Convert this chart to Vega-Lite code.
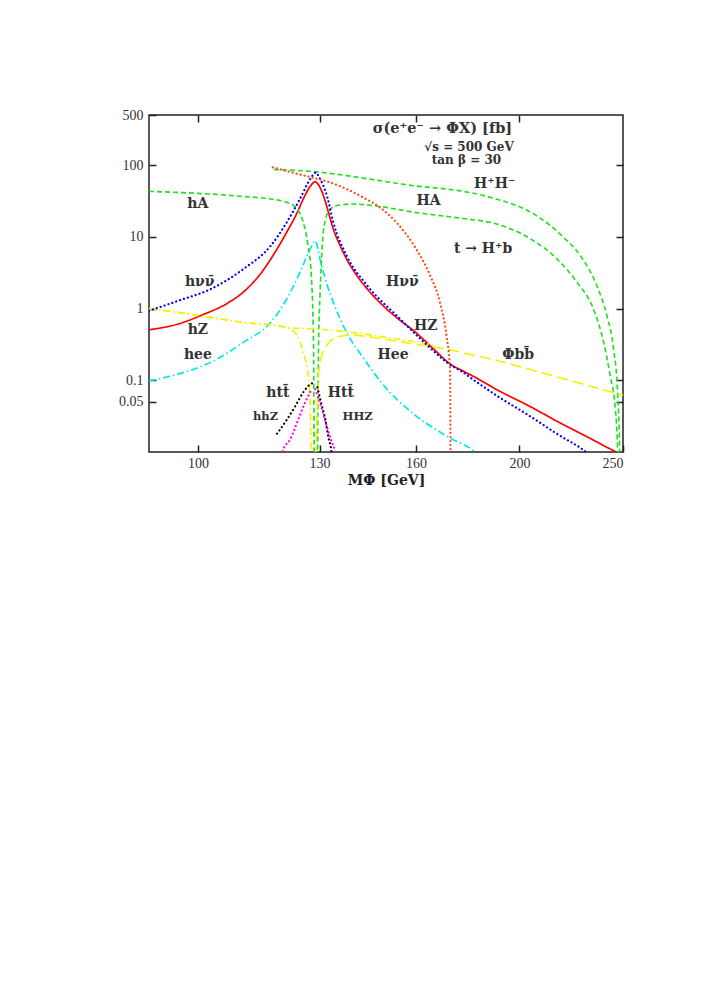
{
  "$schema": "https://vega.github.io/schema/vega-lite/v6.json",
  "width": 474,
  "height": 337,
  "autosize": {"type": "none"},
  "padding": {"left": 149, "top": 115, "right": 83, "bottom": 545},
  "background": "white",
  "config": {
    "view": {"stroke": "#222", "strokeWidth": 1.5},
    "font": "Liberation Serif",
    "axis": {"domain": false, "grid": false, "labelFont": "Liberation Serif", "labelFontSize": 14, "labelColor": "#333", "tickColor": "#222", "tickWidth": 1.5, "tickSize": -7}
  },
  "datasets": {
    "curves": [
      {"s":"Z","m":90,"v":0.506},{"s":"Z","m":95.8,"v":0.608},{"s":"Z","m":100.9,"v":0.812},{"s":"Z","m":106.6,"v":1.19},{"s":"Z","m":110.3,"v":1.70},{"s":"Z","m":114.4,"v":3.03},{"s":"Z","m":118.6,"v":6.76},{"s":"Z","m":121.1,"v":11.6},{"s":"Z","m":123.9,"v":22},{"s":"Z","m":125.5,"v":33.7},{"s":"Z","m":127.4,"v":50.6},{"s":"Z","m":128.8,"v":58.7},{"s":"Z","m":129.3,"v":56.3},{"s":"Z","m":131.1,"v":37.4},{"s":"Z","m":132.5,"v":22},{"s":"Z","m":133.9,"v":12.8},{"s":"Z","m":135.9,"v":7.51},{"s":"Z","m":137.8,"v":4.9},{"s":"Z","m":140.9,"v":2.87},{"s":"Z","m":144.1,"v":1.87},{"s":"Z","m":148.5,"v":1.155},{"s":"Z","m":154.1,"v":0.714},{"s":"Z","m":159.9,"v":0.466},{"s":"Z","m":166,"v":0.278},{"s":"Z","m":172.8,"v":0.163},{"s":"Z","m":176.7,"v":0.137},{"s":"Z","m":181.6,"v":0.111},{"s":"Z","m":191,"v":0.0724},{"s":"Z","m":204.2,"v":0.0438},{"s":"Z","m":217.4,"v":0.0263},{"s":"Z","m":232.1,"v":0.0159},{"s":"Z","m":243.9,"v":0.0108},{"s":"Z","m":250,"v":0.0091},

      {"s":"nunu","m":90,"v":0.93},{"s":"nunu","m":95.8,"v":1.28},{"s":"nunu","m":102.8,"v":1.87},{"s":"nunu","m":110.3,"v":3.56},{"s":"nunu","m":117,"v":7.5},{"s":"nunu","m":121.1,"v":15.9},{"s":"nunu","m":124.6,"v":33.7},{"s":"nunu","m":127.4,"v":64},{"s":"nunu","m":129.0,"v":79},{"s":"nunu","m":129.7,"v":70},{"s":"nunu","m":132.2,"v":35.5},{"s":"nunu","m":133.9,"v":15.9},{"s":"nunu","m":137.8,"v":5.45},{"s":"nunu","m":144.1,"v":2.08},{"s":"nunu","m":154.1,"v":0.754},{"s":"nunu","m":161.9,"v":0.367},{"s":"nunu","m":172.8,"v":0.16},{"s":"nunu","m":176.7,"v":0.132},{"s":"nunu","m":181.6,"v":0.099},{"s":"nunu","m":191,"v":0.0593},{"s":"nunu","m":204.2,"v":0.0322},{"s":"nunu","m":217.4,"v":0.0175},{"s":"nunu","m":230.1,"v":0.0104},{"s":"nunu","m":233,"v":0.009},

      {"s":"ee","m":90,"v":0.098},{"s":"ee","m":95.8,"v":0.122},{"s":"ee","m":102.8,"v":0.178},{"s":"ee","m":110.3,"v":0.338},{"s":"ee","m":117,"v":0.642},{"s":"ee","m":121.1,"v":1.36},{"s":"ee","m":124.6,"v":3.2},{"s":"ee","m":127.4,"v":6.76},{"s":"ee","m":128.8,"v":8.83},{"s":"ee","m":130.1,"v":4.9},{"s":"ee","m":132.2,"v":2.08},{"s":"ee","m":133.9,"v":1.22},{"s":"ee","m":137.8,"v":0.466},{"s":"ee","m":143.1,"v":0.198},{"s":"ee","m":148.5,"v":0.093},{"s":"ee","m":159.9,"v":0.0322},{"s":"ee","m":171.8,"v":0.016},{"s":"ee","m":181.2,"v":0.0103},{"s":"ee","m":183,"v":0.009},

      {"s":"hA","m":90,"v":43.1},{"s":"hA","m":95.8,"v":41.6},{"s":"hA","m":102.8,"v":39.5},{"s":"hA","m":110.3,"v":36.5},{"s":"hA","m":117,"v":33.7},{"s":"hA","m":121.1,"v":30.3},{"s":"hA","m":123.9,"v":24.4},{"s":"hA","m":125.5,"v":15.9},{"s":"hA","m":126.8,"v":7.5},{"s":"hA","m":127.7,"v":2.87},{"s":"hA","m":128.3,"v":0.338},{"s":"hA","m":128.5,"v":0.005},

      {"s":"HA","m":129.4,"v":0.005},{"s":"HA","m":129.7,"v":0.3},{"s":"HA","m":130.1,"v":1.5},{"s":"HA","m":130.4,"v":3.56},{"s":"HA","m":130.8,"v":8.4},{"s":"HA","m":131.7,"v":17.7},{"s":"HA","m":133,"v":24.4},{"s":"HA","m":135.7,"v":27.8},{"s":"HA","m":139.7,"v":28.7},{"s":"HA","m":148,"v":26.5},{"s":"HA","m":159.4,"v":22},{"s":"HA","m":170.9,"v":19.3},{"s":"HA","m":177.3,"v":18},{"s":"HA","m":190.3,"v":15.1},{"s":"HA","m":205,"v":9.3},{"s":"HA","m":216.9,"v":4.9},{"s":"HA","m":226.4,"v":2.32},{"s":"HA","m":234.6,"v":0.98},{"s":"HA","m":239.8,"v":0.338},{"s":"HA","m":243.2,"v":0.115},{"s":"HA","m":245.9,"v":0.0397},{"s":"HA","m":247.1,"v":0.0107},{"s":"HA","m":247.4,"v":0.005},

      {"s":"HpHm","m":117.8,"v":86.8},{"s":"HpHm","m":128.8,"v":80.9},{"s":"HpHm","m":137.8,"v":71.5},{"s":"HpHm","m":148,"v":60.7},{"s":"HpHm","m":159.4,"v":51.5},{"s":"HpHm","m":170.9,"v":46.4},{"s":"HpHm","m":177.3,"v":43},{"s":"HpHm","m":190.3,"v":33.7},{"s":"HpHm","m":205,"v":22},{"s":"HpHm","m":220,"v":9.8},{"s":"HpHm","m":228.1,"v":5.45},{"s":"HpHm","m":236.3,"v":2.08},{"s":"HpHm","m":241.5,"v":0.79},{"s":"HpHm","m":245,"v":0.272},{"s":"HpHm","m":247.1,"v":0.068},{"s":"HpHm","m":248.2,"v":0.0107},{"s":"HpHm","m":248.4,"v":0.005},

      {"s":"tHb","m":117.5,"v":93.2},{"s":"tHb","m":124.2,"v":75},{"s":"tHb","m":128.8,"v":65.5},{"s":"tHb","m":133,"v":57.3},{"s":"tHb","m":137.8,"v":46.4},{"s":"tHb","m":142.8,"v":35.5},{"s":"tHb","m":148,"v":25.8},{"s":"tHb","m":153.4,"v":15.9},{"s":"tHb","m":159.4,"v":7.5},{"s":"tHb","m":165,"v":2.87},{"s":"tHb","m":168.5,"v":1.22},{"s":"tHb","m":170.9,"v":0.417},{"s":"tHb","m":172.2,"v":0.143},{"s":"tHb","m":172.4,"v":0.005},

      {"s":"hbb","m":90,"v":1.0},{"s":"hbb","m":95.8,"v":0.885},{"s":"hbb","m":102.8,"v":0.754},{"s":"hbb","m":110.3,"v":0.642},{"s":"hbb","m":118.6,"v":0.576},{"s":"hbb","m":122,"v":0.518},{"s":"hbb","m":123.9,"v":0.417},{"s":"hbb","m":125.5,"v":0.245},{"s":"hbb","m":126.9,"v":0.115},{"s":"hbb","m":127.4,"v":0.04},{"s":"hbb","m":127.7,"v":0.005},

      {"s":"Abb","m":90,"v":1.0},{"s":"Abb","m":95.8,"v":0.885},{"s":"Abb","m":102.8,"v":0.754},{"s":"Abb","m":110.3,"v":0.642},{"s":"Abb","m":118.6,"v":0.576},{"s":"Abb","m":122,"v":0.54},{"s":"Abb","m":126.9,"v":0.525},{"s":"Abb","m":131.1,"v":0.51},{"s":"Abb","m":137.8,"v":0.475},{"s":"Abb","m":148,"v":0.41},{"s":"Abb","m":159.4,"v":0.345},{"s":"Abb","m":166,"v":0.31},

      {"s":"Hbb","m":128.9,"v":0.005},{"s":"Hbb","m":129.3,"v":0.04},{"s":"Hbb","m":129.7,"v":0.115},{"s":"Hbb","m":130.6,"v":0.22},{"s":"Hbb","m":132.3,"v":0.32},{"s":"Hbb","m":135,"v":0.397},{"s":"Hbb","m":139,"v":0.427},{"s":"Hbb","m":148,"v":0.384},{"s":"Hbb","m":159.4,"v":0.32},{"s":"Hbb","m":170.9,"v":0.272},{"s":"Hbb","m":177.3,"v":0.24},{"s":"Hbb","m":190.3,"v":0.19},{"s":"Hbb","m":205,"v":0.14},{"s":"Hbb","m":220,"v":0.105},{"s":"Hbb","m":236.3,"v":0.078},{"s":"Hbb","m":250,"v":0.062},

      {"s":"htt","m":118.6,"v":0.018},{"s":"htt","m":120.7,"v":0.026},{"s":"htt","m":123.4,"v":0.044},{"s":"htt","m":125.5,"v":0.068},{"s":"htt","m":127.4,"v":0.088},{"s":"htt","m":128.3,"v":0.092},
      {"s":"Htt","m":129.4,"v":0.08},{"s":"Htt","m":130.4,"v":0.0488},{"s":"Htt","m":131.6,"v":0.0288},{"s":"Htt","m":132.5,"v":0.016},{"s":"Htt","m":133.3,"v":0.0107},{"s":"Htt","m":133.5,"v":0.009},
      {"s":"hhZ","m":119.8,"v":0.009},{"s":"hhZ","m":120.1,"v":0.0105},{"s":"hhZ","m":122,"v":0.015},{"s":"hhZ","m":124.2,"v":0.0288},{"s":"hhZ","m":126,"v":0.049},{"s":"hhZ","m":127.8,"v":0.076},
      {"s":"HHZ","m":128.8,"v":0.075},{"s":"HHZ","m":130.4,"v":0.044},{"s":"HHZ","m":131.7,"v":0.026},{"s":"HHZ","m":133,"v":0.016},{"s":"HHZ","m":134.4,"v":0.0103},{"s":"HHZ","m":134.6,"v":0.0095}
    ],
    "labels": [
      {"t":"hA","m":100.0,"v":28.7},
      {"t":"H⁺H⁻","m":189.6,"v":54.5},
      {"t":"HA","m":164.4,"v":31.9},
      {"t":"t → H⁺b","m":184.9,"v":6.76},
      {"t":"hνν̄","m":100.4,"v":2.32},
      {"t":"hZ","m":100.0,"v":0.506},
      {"t":"hee","m":100.0,"v":0.2268},
      {"t":"htt̄","m":118.8,"v":0.0663},
      {"t":"Htt̄","m":136.1,"v":0.0663},
      {"t":"Hνν̄","m":155.4,"v":2.32},
      {"t":"HZ","m":163.4,"v":0.5757},
      {"t":"Hee","m":152.3,"v":0.2268},
      {"t":"Φbb̄","m":199.4,"v":0.2246}
    ],
    "small": [
      {"t":"hhZ","m":115.7,"v":0.0304},
      {"t":"HHZ","m":141.1,"v":0.0304}
    ],
    "title1": [{"t":"σ(e⁺e⁻ → ΦX) [fb]","m":169.4,"v":318}],
    "title2": [{"t":"√s = 500 GeV","m":179.4,"v":180.6},{"t":"tan β = 30","m":178.4,"v":119.7}]
  },
  "layer": [
    {
      "data": {"name": "curves"},
      "transform": [{"filter": {"field": "s", "oneOf": ["Z","ee","hA","HA","HpHm","hbb","Abb","Hbb"]}}],
      "mark": {"type": "line", "clip": true, "strokeCap": "butt", "interpolate": "monotone"},
      "encoding": {
        "x": {"field": "m", "type": "quantitative", "scale": {"type": "log", "domain": [90, 250], "nice": false},
              "axis": {"orient": "bottom", "values": [100,130,160,200,250], "format": "d", "labelPadding": 11, "title": "MΦ [GeV]", "titleFont": "DejaVu Serif", "titleFontSize": 14, "titleFontWeight": "bold", "titleColor": "#222", "titlePadding": 3}},
        "y": {"field": "v", "type": "quantitative", "scale": {"type": "log", "domain": [0.01, 500], "nice": false},
              "axis": {"orient": "left", "values": [0.05,0.1,1,10,100,500], "format": "~g", "labelPadding": 13, "title": null}},
        "color": {"field": "s", "type": "nominal", "legend": null,
                  "scale": {"domain": ["Z","nunu","ee","hA","HA","HpHm","tHb","hbb","Abb","Hbb","htt","Htt","hhZ","HHZ"],
                            "range": ["#ff0000","#0000ff","#00e8e8","#22e022","#22e022","#22e022","#ff4a10","#f2f200","#f2f200","#f2f200","#000000","#000000","#ff00ff","#ff00ff"]}},
        "strokeDash": {"field": "s", "type": "nominal", "legend": null,
                  "scale": {"domain": ["Z","ee","hA","HA","HpHm","hbb","Abb","Hbb"],
                            "range": [[1,0],[7,3,1.5,3],[5,3],[5,3],[5,3],[7,3,1.5,3],[7,3,1.5,3],[11,5]]}},
        "strokeWidth": {"field": "s", "type": "nominal", "legend": null,
                  "scale": {"domain": ["Z","ee","hA","HA","HpHm","hbb","Abb","Hbb"],
                            "range": [1.7,1.6,1.7,1.7,1.7,1.6,1.6,1.8]}}
      }
    },
    {
      "data": {"name": "curves"},
      "transform": [{"filter": {"field": "s", "oneOf": ["nunu","tHb","htt","Htt","hhZ","HHZ"]}}],
      "mark": {"type": "line", "clip": true, "strokeCap": "round", "interpolate": "monotone", "strokeDash": [0.1, 4]},
      "encoding": {
        "x": {"field": "m", "type": "quantitative", "scale": {"type": "log", "domain": [90, 250], "nice": false},
              "axis": {"orient": "top", "values": [100,130,160,200], "labels": false, "title": null}},
        "y": {"field": "v", "type": "quantitative", "scale": {"type": "log", "domain": [0.01, 500], "nice": false},
              "axis": {"orient": "right", "values": [0.05,0.1,1,10,100], "labels": false, "title": null}},
        "color": {"field": "s", "type": "nominal", "legend": null},
        "strokeWidth": {"value": 2.2}
      }
    },
    {
      "data": {"name": "labels"},
      "mark": {"type": "text", "font": "DejaVu Serif", "fontSize": 14, "fontWeight": "bold", "color": "#333"},
      "encoding": {
        "x": {"field": "m", "type": "quantitative", "axis": null},
        "y": {"field": "v", "type": "quantitative", "axis": null},
        "text": {"field": "t"}
      }
    },
    {
      "data": {"name": "small"},
      "mark": {"type": "text", "font": "DejaVu Serif", "fontSize": 11.5, "fontWeight": "bold", "color": "#333"},
      "encoding": {
        "x": {"field": "m", "type": "quantitative", "axis": null},
        "y": {"field": "v", "type": "quantitative", "axis": null},
        "text": {"field": "t"}
      }
    },
    {
      "data": {"name": "title1"},
      "mark": {"type": "text", "font": "DejaVu Serif", "fontSize": 14.5, "fontWeight": "bold", "color": "#333"},
      "encoding": {
        "x": {"field": "m", "type": "quantitative", "axis": null},
        "y": {"field": "v", "type": "quantitative", "axis": null},
        "text": {"field": "t"}
      }
    },
    {
      "data": {"name": "title2"},
      "mark": {"type": "text", "font": "DejaVu Serif", "fontSize": 12, "fontWeight": "bold", "color": "#333"},
      "encoding": {
        "x": {"field": "m", "type": "quantitative", "axis": null},
        "y": {"field": "v", "type": "quantitative", "axis": null},
        "text": {"field": "t"}
      }
    }
  ],
  "resolve": {"axis": {"x": "independent", "y": "independent"}}
}
